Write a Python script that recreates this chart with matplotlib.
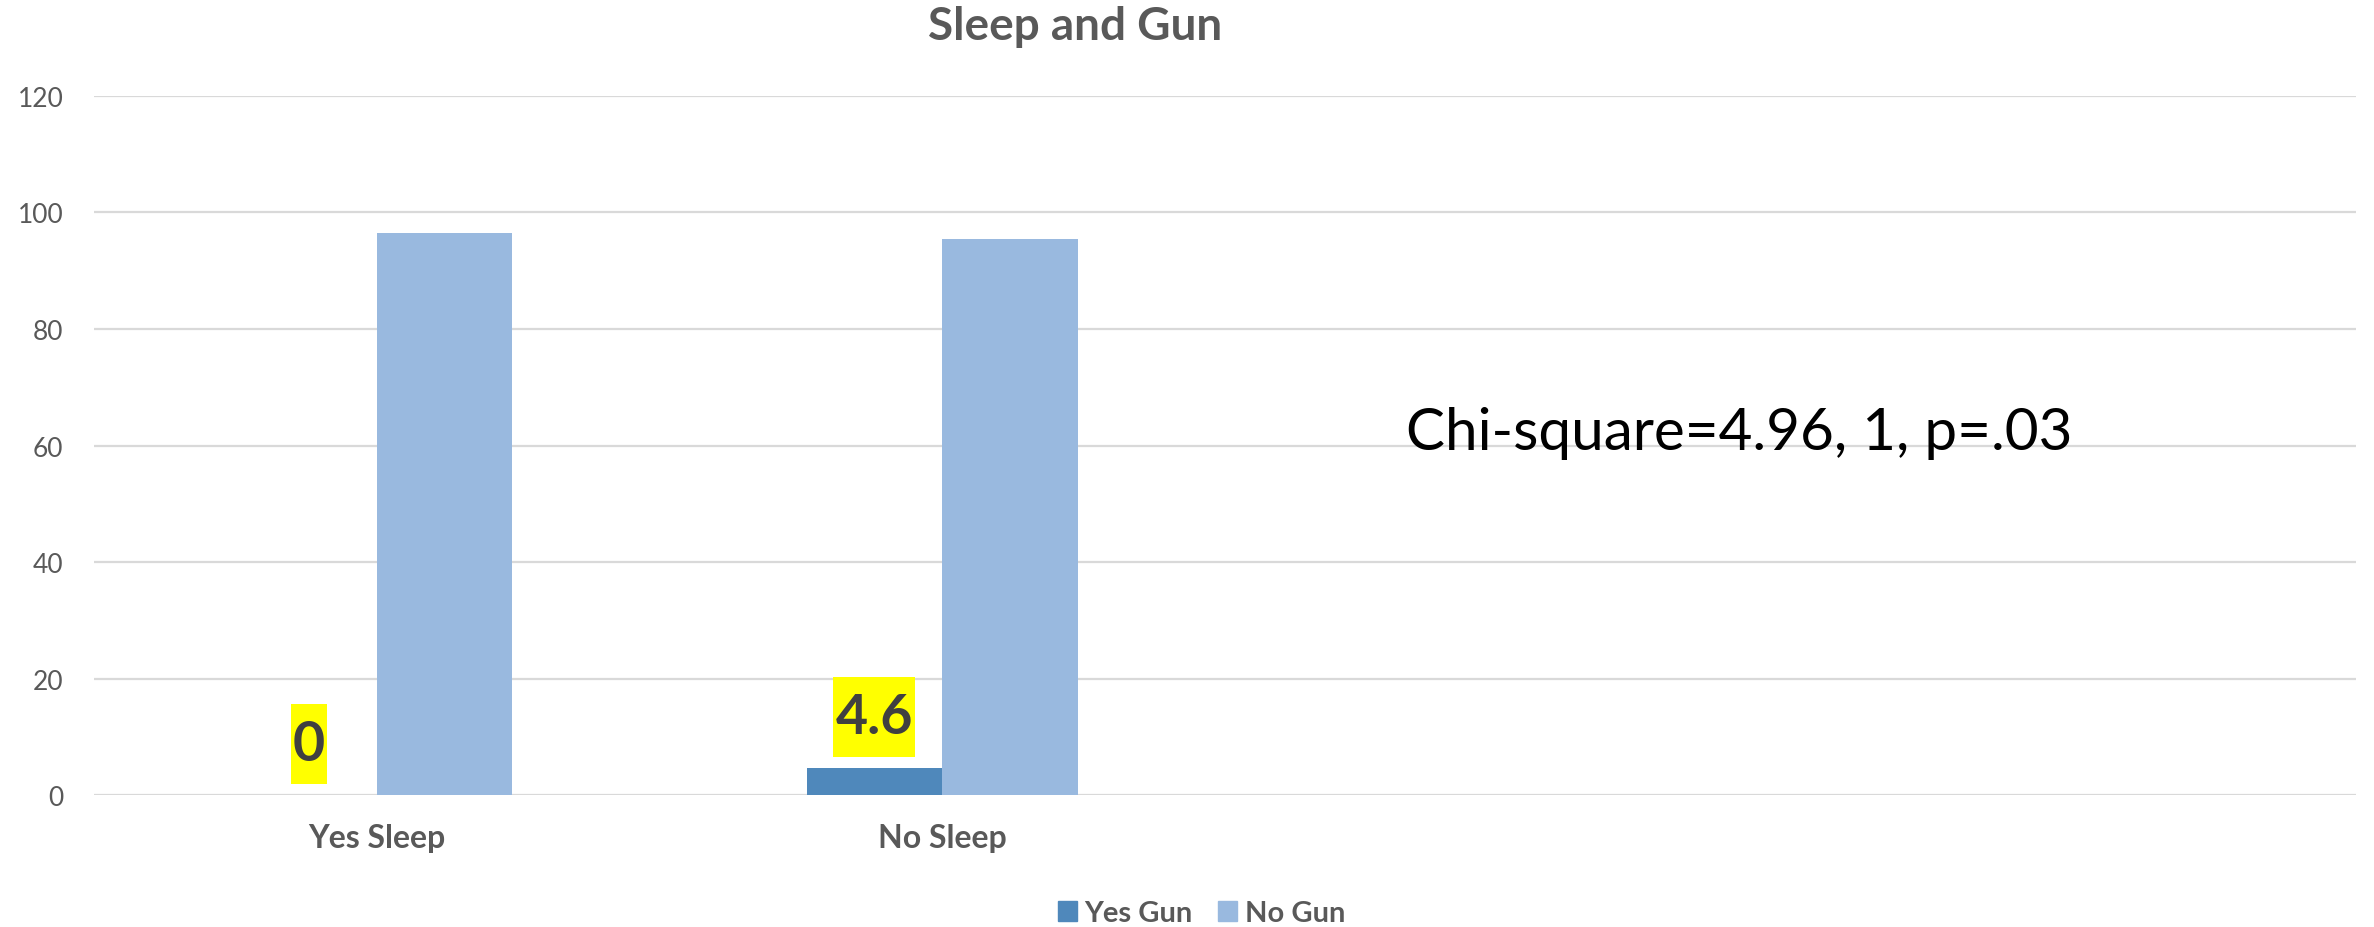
import numpy as np
import matplotlib
matplotlib.use("Agg")
import matplotlib.pyplot as plt
from matplotlib.patches import Patch
from matplotlib.path import Path

plt.rcParams['font.family'] = ['Lato', 'DejaVu Sans']

# categories (last two slots are empty in the sheet)
categories = ["Yes Sleep", "No Sleep", "", ""]
yes_gun = [0, 4.6, np.nan, np.nan]
no_gun = [96.5, 95.4, np.nan, np.nan]
series_names = ["Yes Gun", "No Gun"]
series_colors = ["#4f88bb", "#99b9df"]
yticks = [0, 20, 40, 60, 80, 100, 120]
stat_text = "Chi-square=4.96, 1, p=.03"

grey = "#595959"


def tall_box(x0, y0, width, height, mutation_size):
    # highlight box: thin on the sides, taller above and below the text
    px = 0.04 * mutation_size
    py = 0.27 * mutation_size
    x0, x1 = x0 - px, x0 + width + px
    y0, y1 = y0 - py, y0 + height + py
    return Path([(x0, y0), (x1, y0), (x1, y1), (x0, y1), (x0, y0)], closed=True)


fig = plt.figure(figsize=(23.74, 9.28), dpi=100)
ax = fig.add_axes([0.0396, 0.1422, 0.9528, 0.7533])

x = np.arange(len(categories))
w = 0.24
ax.bar(x - w / 2, yes_gun, w, color=series_colors[0], zorder=3)
ax.bar(x + w / 2, no_gun, w, color=series_colors[1], zorder=3)

# highlighted labels on the Yes Gun bars
for xi, v in zip(x, yes_gun):
    if np.isnan(v):
        continue
    ax.annotate(f"{v:g}", (xi - w / 2, v), xytext=(0, 19), textcoords="offset points",
                ha="center", va="bottom", fontsize=40, fontweight="bold", color="#404040",
                bbox=dict(boxstyle=tall_box, fc="#ffff00", ec="none"), zorder=4)

ax.set_xlim(-0.5, len(categories) - 0.5)
ax.set_ylim(0, 120)
ax.set_yticks(yticks)
ax.set_yticklabels([str(t) for t in yticks], fontsize=19, color=grey)
ax.set_xticks(x)
ax.set_xticklabels(categories, fontsize=23, fontweight="bold", color=grey)
ax.tick_params(length=0)
ax.tick_params(axis="y", pad=22)
ax.tick_params(axis="x", pad=20)
ax.grid(axis="y", color="#d9d9d9", linewidth=1.6, zorder=0)
for s in ax.spines.values():
    s.set_visible(False)

ax.text(2.41, 62.3, stat_text, ha="center", va="center", fontsize=42, color="black")

fig.text(0.453, 0.971, "Sleep and Gun", ha="center", va="center",
         fontsize=33, fontweight="bold", color=grey)

handles = [Patch(color=c) for c in series_colors]
fig.legend(handles, series_names, loc="center", bbox_to_anchor=(0.506, 0.015),
           ncol=2, frameon=False, handlelength=0.65, handleheight=0.65,
           columnspacing=0.9, handletextpad=0.25, labelcolor=grey,
           prop=dict(weight="bold", size=21))

fig.savefig("out.png", dpi=100)
